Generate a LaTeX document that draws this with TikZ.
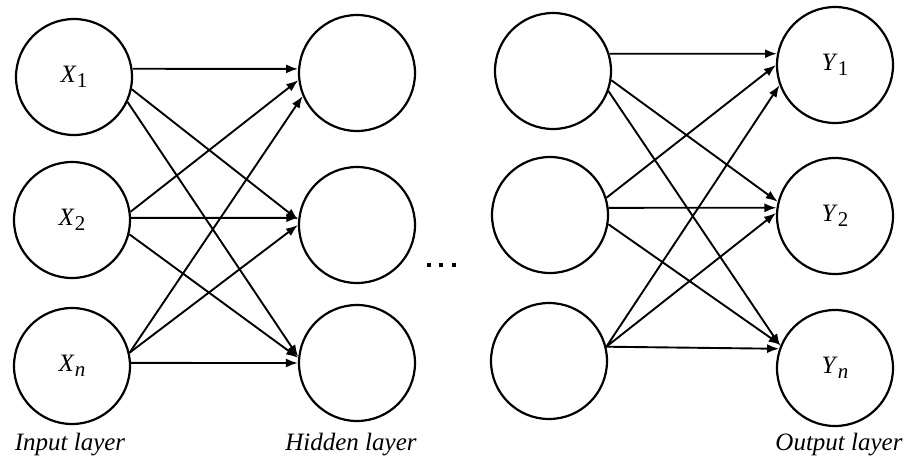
\documentclass[tikz,border=0pt]{standalone}
\usepackage{fontspec}
\setmainfont{Liberation Serif}[ItalicFont={Liberation Serif Italic}]
\usetikzlibrary{arrows.meta}
\newcommand{\mysub}[1]{\raisebox{-0.22em}{\fontsize{21}{24}\selectfont #1}}
\begin{document}
\begin{tikzpicture}[x=1pt,y=-1pt,
  neuron/.style={circle,draw,line width=2.2pt,minimum size=116pt,inner sep=0pt,
    font=\fontsize{25}{30}\selectfont},
  lbl/.style={font=\fontsize{25}{30}\selectfont\itshape},
  conn/.style={line width=1.9pt,-{Latex[length=12pt,width=9pt]}}]
\useasboundingbox (0,0) rectangle (909,461);
% input layer
\node[neuron] (a1) at (74,77)  {\textit{X}\mysub{1}};
\node[neuron] (a2) at (72,220) {\textit{X}\mysub{2}};
\node[neuron] (a3) at (72,366) {\textit{X}\mysub{\textit{n}}};
% hidden layer
\node[neuron] (b1) at (357,73)  {};
\node[neuron] (b2) at (357,225) {};
\node[neuron] (b3) at (357,363) {};
% last hidden layer
\node[neuron] (c1) at (553,71)  {};
\node[neuron] (c2) at (550,215) {};
\node[neuron] (c3) at (549,361) {};
% output layer
\node[neuron] (d1) at (835,65)  {\textit{Y}\mysub{1}};
\node[neuron] (d2) at (835,216) {\textit{Y}\mysub{2}};
\node[neuron] (d3) at (835,368) {\textit{Y}\mysub{\textit{n}}};
% connections left
\draw[conn] (a1.8)   -- (b1.176);
\draw[conn] (a1.-12) -- (b2.175);
\draw[conn] (a1.-25) -- (b3.174);
\draw[conn] (a2.8)   -- (b1.187);
\draw[conn] (a2.2)   -- (b2.173);
\draw[conn] (a2.-14) -- (b3.175);
\draw[conn] (a3.13)  -- (b1.203);
\draw[conn] (a3.13)  -- (b2.180);
\draw[conn] (a3.3)   -- (b3.180);
% connections right
\draw[conn] (c1.17)  -- (d1.169);
\draw[conn] (c1.-9)  -- (d2.166);
\draw[conn] (c1.-20) -- (d3.158);
\draw[conn] (c2.17)  -- (d1.180);
\draw[conn] (c2.7)   -- (d2.172);
\draw[conn] (c2.-9)  -- (d3.157);
\draw[conn] (c3.14)  -- (d1.200);
\draw[conn] (c3.14)  -- (d2.177);
\draw[conn] (c3.14)  -- (d3.161);
% dots
\foreach \x in {429,441,454} \fill (\x-2.2,262.8) rectangle (\x+2.2,267.2);
% layer labels
\node[lbl] (li) at (70,445)  {Input layer};
\node[lbl] (lh) at (351,445) {Hidden layer};
\node[lbl] (lo) at (839,445) {Output layer};
\end{tikzpicture}
\end{document}
